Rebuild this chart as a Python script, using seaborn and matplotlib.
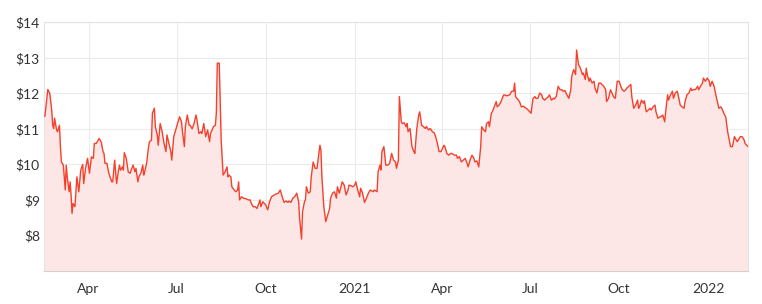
import matplotlib
matplotlib.use("Agg")
import matplotlib.pyplot as plt
import matplotlib.dates as mdates
import seaborn as sns
import pandas as pd

dates = [
    "2020-02-15", "2020-02-16", "2020-02-19", "2020-02-21", "2020-02-23", "2020-02-24", "2020-02-25",
    "2020-02-26", "2020-02-28", "2020-02-29", "2020-03-02", "2020-03-03", "2020-03-04", "2020-03-06",
    "2020-03-08", "2020-03-09", "2020-03-10", "2020-03-12", "2020-03-13", "2020-03-14", "2020-03-15",
    "2020-03-16", "2020-03-18", "2020-03-20", "2020-03-22", "2020-03-24", "2020-03-26", "2020-03-27",
    "2020-03-29", "2020-03-31", "2020-04-02", "2020-04-04", "2020-04-06", "2020-04-07", "2020-04-09",
    "2020-04-12", "2020-04-14", "2020-04-16", "2020-04-17", "2020-04-18", "2020-04-20", "2020-04-22",
    "2020-04-25", "2020-04-26", "2020-04-28", "2020-04-30", "2020-05-02", "2020-05-03", "2020-05-04",
    "2020-05-06", "2020-05-07", "2020-05-08", "2020-05-10", "2020-05-12", "2020-05-14", "2020-05-15",
    "2020-05-17", "2020-05-19", "2020-05-20", "2020-05-22", "2020-05-23", "2020-05-25", "2020-05-27",
    "2020-05-28", "2020-05-29", "2020-05-31", "2020-06-02", "2020-06-03", "2020-06-05", "2020-06-06",
    "2020-06-08", "2020-06-09", "2020-06-11", "2020-06-12", "2020-06-14", "2020-06-16", "2020-06-18",
    "2020-06-20", "2020-06-21", "2020-06-23", "2020-06-25", "2020-06-26", "2020-06-28", "2020-06-30",
    "2020-07-02", "2020-07-04", "2020-07-06", "2020-07-07", "2020-07-09", "2020-07-10", "2020-07-12",
    "2020-07-14", "2020-07-15", "2020-07-17", "2020-07-19", "2020-07-21", "2020-07-22", "2020-07-24",
    "2020-07-26", "2020-07-27", "2020-07-29", "2020-07-31", "2020-08-02", "2020-08-04", "2020-08-05",
    "2020-08-08", "2020-08-10", "2020-08-11", "2020-08-12", "2020-08-14", "2020-08-15", "2020-08-16",
    "2020-08-18", "2020-08-20", "2020-08-22", "2020-08-23", "2020-08-24", "2020-08-26", "2020-08-27",
    "2020-08-28", "2020-08-31", "2020-09-02", "2020-09-03", "2020-09-04", "2020-09-06", "2020-09-08",
    "2020-09-11", "2020-09-13", "2020-09-15", "2020-09-16", "2020-09-18", "2020-09-20", "2020-09-22",
    "2020-09-24", "2020-09-25", "2020-09-26", "2020-09-28", "2020-10-01", "2020-10-03", "2020-10-05",
    "2020-10-07", "2020-10-11", "2020-10-14", "2020-10-16", "2020-10-18", "2020-10-20", "2020-10-22",
    "2020-10-24", "2020-10-25", "2020-10-27", "2020-10-29", "2020-10-31", "2020-11-02", "2020-11-04",
    "2020-11-05", "2020-11-07", "2020-11-08", "2020-11-10", "2020-11-11", "2020-11-12", "2020-11-14",
    "2020-11-16", "2020-11-17", "2020-11-19", "2020-11-21", "2020-11-23", "2020-11-24", "2020-11-26",
    "2020-11-27", "2020-11-28", "2020-11-30", "2020-12-02", "2020-12-04", "2020-12-06", "2020-12-07",
    "2020-12-09", "2020-12-11", "2020-12-13", "2020-12-14", "2020-12-16", "2020-12-17", "2020-12-19",
    "2020-12-21", "2020-12-23", "2020-12-25", "2020-12-26", "2020-12-28", "2020-12-30", "2021-01-01",
    "2021-01-02", "2021-01-04", "2021-01-06", "2021-01-07", "2021-01-09", "2021-01-11", "2021-01-13",
    "2021-01-15", "2021-01-17", "2021-01-20", "2021-01-21", "2021-01-24", "2021-01-25", "2021-01-27",
    "2021-01-28", "2021-01-29", "2021-01-31", "2021-02-02", "2021-02-04", "2021-02-06", "2021-02-08",
    "2021-02-10", "2021-02-12", "2021-02-13", "2021-02-15", "2021-02-16", "2021-02-18", "2021-02-19",
    "2021-02-21", "2021-02-23", "2021-02-24", "2021-02-25", "2021-02-27", "2021-03-01", "2021-03-03",
    "2021-03-04", "2021-03-06", "2021-03-08", "2021-03-09", "2021-03-11", "2021-03-13", "2021-03-15",
    "2021-03-16", "2021-03-18", "2021-03-20", "2021-03-22", "2021-03-24", "2021-03-26", "2021-03-28",
    "2021-03-29", "2021-03-31", "2021-04-03", "2021-04-04", "2021-04-06", "2021-04-08", "2021-04-10",
    "2021-04-11", "2021-04-14", "2021-04-16", "2021-04-17", "2021-04-19", "2021-04-21", "2021-04-23",
    "2021-04-25", "2021-04-27", "2021-04-28", "2021-04-30", "2021-05-02", "2021-05-04", "2021-05-05",
    "2021-05-07", "2021-05-09", "2021-05-11", "2021-05-12", "2021-05-14", "2021-05-16", "2021-05-17",
    "2021-05-19", "2021-05-20", "2021-05-22", "2021-05-23", "2021-05-25", "2021-05-27", "2021-05-28",
    "2021-05-30", "2021-06-01", "2021-06-03", "2021-06-04", "2021-06-07", "2021-06-10", "2021-06-12",
    "2021-06-14", "2021-06-15", "2021-06-16", "2021-06-18", "2021-06-20", "2021-06-22", "2021-06-24",
    "2021-06-25", "2021-06-27", "2021-06-29", "2021-07-02", "2021-07-04", "2021-07-06", "2021-07-07",
    "2021-07-09", "2021-07-11", "2021-07-13", "2021-07-14", "2021-07-16", "2021-07-18", "2021-07-20",
    "2021-07-21", "2021-07-23", "2021-07-25", "2021-07-26", "2021-07-28", "2021-07-30", "2021-08-01",
    "2021-08-03", "2021-08-04", "2021-08-06", "2021-08-07", "2021-08-10", "2021-08-12", "2021-08-13",
    "2021-08-15", "2021-08-17", "2021-08-18", "2021-08-20", "2021-08-22", "2021-08-24", "2021-08-25",
    "2021-08-27", "2021-08-28", "2021-08-29", "2021-08-31", "2021-09-01", "2021-09-03", "2021-09-05",
    "2021-09-06", "2021-09-08", "2021-09-10", "2021-09-12", "2021-09-13", "2021-09-15", "2021-09-17",
    "2021-09-18", "2021-09-20", "2021-09-22", "2021-09-24", "2021-09-25", "2021-09-27", "2021-09-29",
    "2021-10-01", "2021-10-02", "2021-10-04", "2021-10-06", "2021-10-07", "2021-10-09", "2021-10-11",
    "2021-10-13", "2021-10-14", "2021-10-16", "2021-10-18", "2021-10-20", "2021-10-21", "2021-10-22",
    "2021-10-24", "2021-10-26", "2021-10-27", "2021-10-29", "2021-10-31", "2021-11-02", "2021-11-03",
    "2021-11-05", "2021-11-07", "2021-11-08", "2021-11-10", "2021-11-12", "2021-11-13", "2021-11-15",
    "2021-11-17", "2021-11-18", "2021-11-20", "2021-11-21", "2021-11-23", "2021-11-25", "2021-11-26",
    "2021-11-28", "2021-11-30", "2021-12-02", "2021-12-03", "2021-12-05", "2021-12-07", "2021-12-08",
    "2021-12-10", "2021-12-12", "2021-12-14", "2021-12-15", "2021-12-17", "2021-12-19", "2021-12-21",
    "2021-12-22", "2021-12-24", "2021-12-26", "2021-12-27", "2021-12-29", "2021-12-31", "2022-01-02",
    "2022-01-03", "2022-01-05", "2022-01-07", "2022-01-08", "2022-01-10", "2022-01-12", "2022-01-14",
    "2022-01-15", "2022-01-17", "2022-01-19", "2022-01-21", "2022-01-22", "2022-01-24", "2022-01-26",
    "2022-01-28", "2022-01-29", "2022-01-31", "2022-02-02", "2022-02-03", "2022-02-05", "2022-02-07",
    "2022-02-08", "2022-02-11",
]

prices = [
    11.36, 11.36, 12.11, 12.00, 11.53, 11.10, 11.01,
    11.30, 10.97, 10.92, 11.10, 10.50, 10.07, 9.98,
    9.28, 9.98, 9.65, 9.23, 9.51, 9.14, 8.62,
    8.90, 8.81, 9.65, 9.23, 9.84, 10.00, 9.46,
    9.89, 10.17, 9.75, 10.21, 10.17, 10.59, 10.59,
    10.73, 10.64, 10.36, 10.31, 10.03, 10.03, 9.75,
    9.51, 9.51, 10.12, 9.46, 9.84, 9.98, 9.84,
    9.93, 9.84, 10.33, 10.17, 9.79, 9.75, 9.84,
    9.98, 9.79, 9.89, 9.51, 9.65, 9.75, 9.98,
    9.70, 9.79, 10.03, 10.50, 10.64, 10.68, 11.44,
    11.58, 11.06, 10.83, 10.54, 11.15, 10.92, 10.59,
    10.36, 10.83, 10.59, 10.36, 10.12, 10.78, 10.97,
    11.15, 11.34, 11.20, 10.92, 10.50, 11.06, 11.39,
    11.10, 11.10, 11.00, 11.15, 11.39, 11.25, 10.87,
    10.92, 10.87, 11.15, 10.78, 10.97, 10.64, 10.87,
    11.06, 11.10, 11.44, 12.85, 12.85, 11.81, 10.68,
    9.70, 9.79, 9.93, 9.65, 9.70, 9.65, 9.37,
    9.33, 9.23, 9.28, 9.51, 9.00, 9.09, 9.05,
    9.03, 9.00, 9.00, 8.91, 8.81, 8.81, 8.76,
    8.91, 9.00, 8.81, 8.95, 8.86, 8.72, 8.95,
    9.09, 9.16, 9.19, 9.28, 9.09, 8.93, 8.97,
    8.93, 8.97, 8.93, 9.05, 9.09, 9.19, 8.95,
    8.48, 7.90, 8.67, 8.95, 9.00, 9.37, 9.19,
    9.23, 9.65, 10.07, 9.89, 9.89, 10.12, 10.54,
    10.40, 9.65, 8.81, 8.39, 8.58, 8.76, 9.05,
    9.19, 9.23, 9.05, 9.37, 9.19, 9.30, 9.51,
    9.42, 9.14, 9.28, 9.42, 9.40, 9.37, 9.42,
    9.51, 9.28, 9.09, 9.33, 9.19, 8.93, 9.05,
    9.19, 9.28, 9.23, 9.28, 9.23, 9.79, 9.98,
    9.84, 10.36, 10.50, 9.98, 9.98, 10.03, 10.31,
    10.12, 10.07, 9.89, 10.12, 11.91, 11.20, 11.15,
    11.17, 11.06, 11.15, 10.92, 11.01, 10.50, 10.36,
    10.31, 11.01, 11.39, 11.48, 11.10, 11.06, 11.01,
    11.07, 10.97, 11.01, 10.92, 10.89, 10.73, 10.50,
    10.36, 10.36, 10.54, 10.50, 10.31, 10.26, 10.31,
    10.31, 10.26, 10.26, 10.17, 10.22, 10.07, 10.12,
    10.17, 10.03, 9.93, 10.12, 10.26, 10.17, 10.07,
    10.10, 9.93, 10.50, 11.06, 10.97, 10.92, 11.15,
    11.20, 11.06, 11.44, 11.48, 11.62, 11.77, 11.62,
    11.67, 11.77, 11.91, 11.96, 11.93, 11.96, 12.06,
    12.06, 12.29, 11.91, 11.84, 11.77, 11.62, 11.64,
    11.62, 11.58, 11.53, 11.44, 11.86, 11.91, 11.86,
    11.86, 12.01, 11.96, 11.86, 11.81, 11.86, 11.91,
    11.96, 11.81, 11.86, 11.84, 11.91, 12.20, 12.10,
    12.10, 12.06, 12.08, 12.01, 11.86, 12.10, 12.48,
    12.67, 12.53, 13.22, 12.81, 12.71, 12.53, 12.57,
    12.39, 12.71, 12.53, 12.34, 12.43, 12.29, 12.34,
    12.15, 12.01, 12.29, 12.29, 12.25, 12.20, 12.11,
    11.77, 11.86, 12.10, 11.98, 11.91, 11.86, 12.34,
    12.34, 12.25, 12.11, 12.06, 12.08, 12.15, 12.20,
    12.25, 11.91, 11.58, 11.67, 11.81, 11.58, 11.62,
    11.81, 11.72, 11.79, 11.48, 11.53, 11.58, 11.53,
    11.62, 11.67, 11.48, 11.30, 11.34, 11.34, 11.39,
    11.20, 11.48, 11.96, 11.81, 11.96, 12.06, 11.86,
    12.01, 12.06, 11.81, 11.67, 11.62, 11.58, 11.77,
    11.96, 12.01, 12.15, 12.08, 12.11, 12.11, 12.20,
    12.10, 12.20, 12.29, 12.43, 12.34, 12.43, 12.34,
    12.20, 12.34, 12.20, 12.06, 11.81, 11.58, 11.62,
    11.58, 11.44, 11.34, 10.92, 10.78, 10.50, 10.50,
    10.78, 10.73, 10.64, 10.73, 10.78, 10.78, 10.69,
    10.59, 10.50,
]

tick_dates = ["2020-04-01", "2020-07-01", "2020-10-01", "2021-01-01",
              "2021-04-01", "2021-07-01", "2021-10-01", "2022-01-01"]
tick_labels = ["Apr", "Jul", "Oct", "2021", "Apr", "Jul", "Oct", "2022"]
y_ticks = [8, 9, 10, 11, 12, 13, 14]
y_labels = ["$8", "$9", "$10", "$11", "$12", "$13", "$14"]

df = pd.DataFrame({"date": pd.to_datetime(dates), "price": prices})

sns.set_theme(style="white")
plt.rcParams["font.family"] = ["Lato", "DejaVu Sans"]

fig = plt.figure(figsize=(7.62, 3.04), dpi=100)
ax = fig.add_axes([0.0577, 0.1086, 0.9239, 0.818])

line_color = "#f5402c"
ax.fill_between(df["date"], df["price"], 7, color="#fde7e6", linewidth=0, zorder=1)
sns.lineplot(data=df, x="date", y="price", ax=ax, color=line_color, linewidth=1.0, zorder=3)

ax.set_xlim(pd.Timestamp("2020-02-15"), pd.Timestamp("2022-02-11"))
ax.set_ylim(7, 14)
ax.set_xticks(pd.to_datetime(tick_dates))
ax.set_xticklabels(tick_labels)
ax.set_yticks(y_ticks)
ax.set_yticklabels(y_labels)
ax.set_xlabel("")
ax.set_ylabel("")

ax.grid(True, color="#ebebeb", linewidth=0.8, zorder=0)
ax.set_axisbelow(True)
for s in ax.spines.values():
    s.set_color("#e3e3e3")
    s.set_linewidth(0.8)
ax.spines["bottom"].set_color("#d8d0d0")

ax.tick_params(axis="both", length=0, labelsize=10, labelcolor="#333333")
ax.tick_params(axis="x", pad=9)
ax.tick_params(axis="y", pad=3)

fig.savefig("out.png", dpi=100)
